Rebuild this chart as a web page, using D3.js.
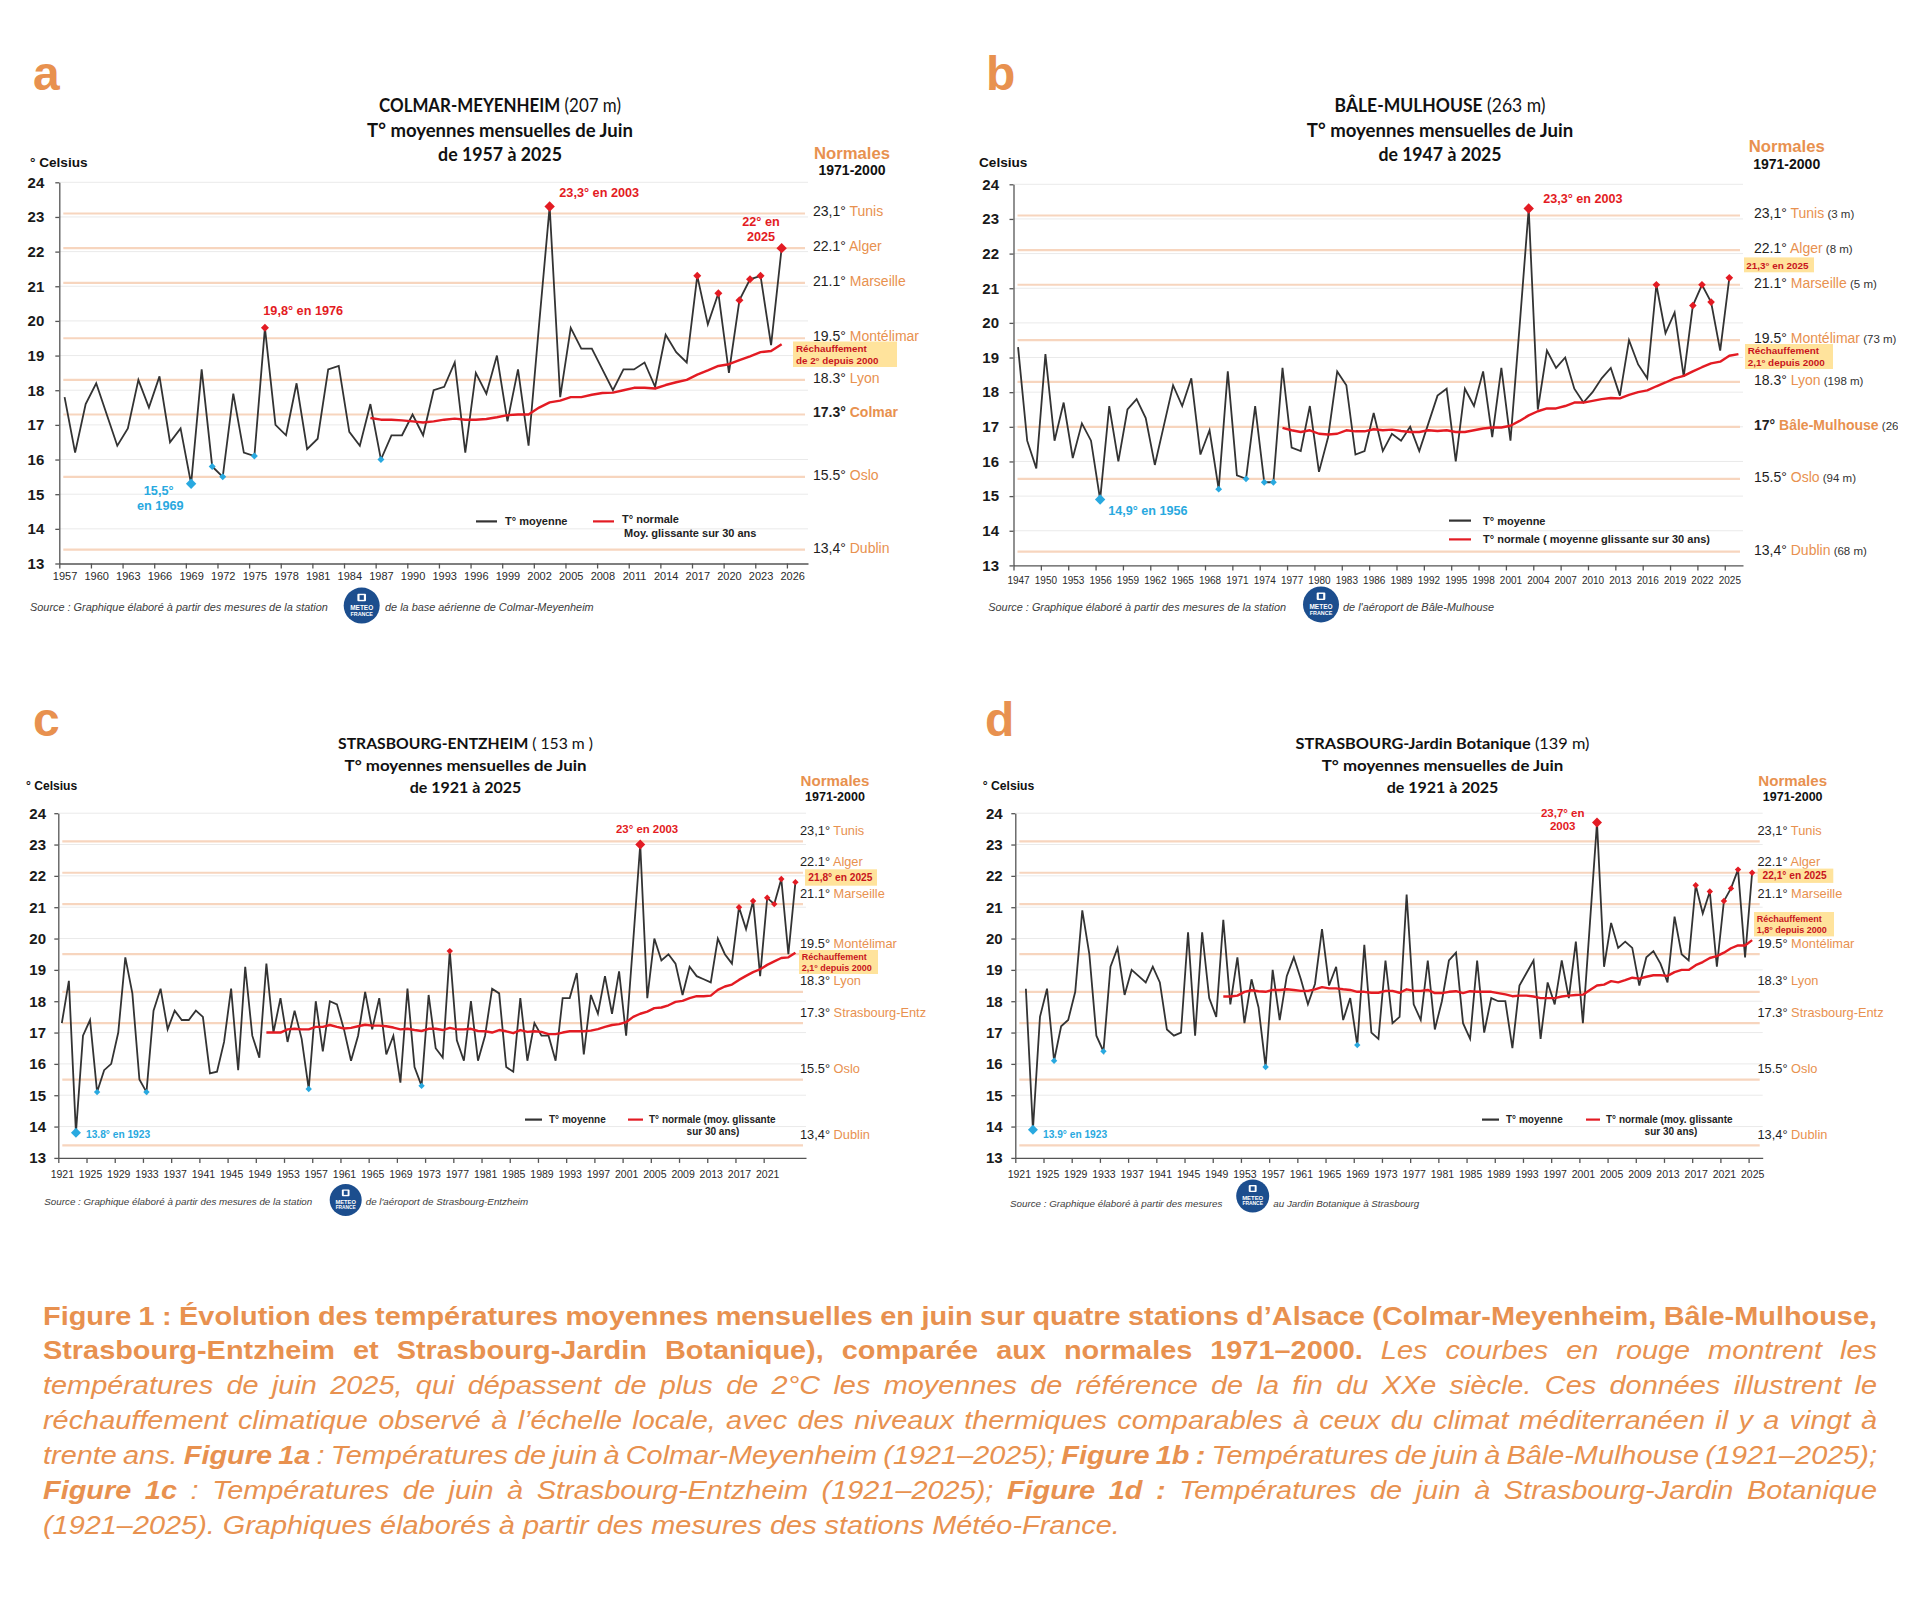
<!DOCTYPE html>
<html><head><meta charset="utf-8">
<script src="https://cdn.jsdelivr.net/npm/d3@7"></script>
<style>body{margin:0;background:#fff}svg{display:block}</style>
</head><body>
<svg id="chart" width="1920" height="1600"></svg>
<script>
// ---------------- DATA ----------------
// a : Colmar-Meyenheim
const colmarStart = 1957;
const colmarTemp = [17.8,16.2,17.6,18.2,17.3,16.4,16.9,18.3,17.5,18.4,
 16.5,16.9,15.3,18.6,15.8,15.5,17.9,16.2,16.1,19.8,
 17.0,16.7,18.2,16.3,16.6,18.6,18.7,16.8,16.4,17.6,
 16.0,16.7,16.7,17.3,16.7,18.0,18.1,18.8,16.2,18.5,
 17.9,19.0,17.1,18.6,16.4,19.9,23.3,17.8,19.8,19.2,
 19.2,18.6,18.0,18.6,18.6,18.8,18.1,19.6,19.1,18.8,
 21.3,19.9,20.8,18.5,20.6,21.2,21.3,19.3,22.1];
const colmarNormalStart = 1986;
const colmarNormal = [17.2,17.15,17.15,17.13,17.1,17.07,17.1,17.15,17.18,17.15,
 17.15,17.17,17.22,17.28,17.3,17.3,17.5,17.65,17.7,17.8,
 17.8,17.87,17.92,17.93,18.0,18.07,18.07,18.05,18.15,18.23,
 18.3,18.45,18.57,18.7,18.75,18.87,18.98,19.1,19.13,19.33];
const colmarHot = [1976,2003,2017,2019,2021,2022,2023,2025];
const colmarHotBig = [2003,2025];
const colmarCold = [1969,1971,1972,1975,1987];
const colmarColdBig = [1969];
const colmarTicks = [1957,1960,1963,1966,1969,1972,1975,1978,1981,1984,1987,1990,1993,1996,1999,2002,2005,2008,2011,2014,2017,2020,2023,2026];

// b : Bâle-Mulhouse
const baleStart = 1947;
const baleTemp = [19.3,16.6,15.8,19.1,16.6,17.7,16.1,17.1,16.6,14.9,
 17.6,16.0,17.5,17.8,17.25,15.9,17.05,18.2,17.6,18.4,
 16.2,16.9,15.2,18.6,15.6,15.5,17.6,15.4,15.4,18.7,
 16.4,16.3,17.6,15.7,16.7,18.6,18.2,16.2,16.3,17.4,
 16.3,16.8,16.6,17.0,16.3,17.1,17.9,18.1,16.0,18.1,
 17.6,18.6,16.7,18.7,16.6,19.9,23.3,17.5,19.2,18.7,
 19.0,18.1,17.7,18.0,18.4,18.7,17.9,19.5,18.8,18.4,
 21.1,19.7,20.3,18.45,20.5,21.1,20.6,19.2,21.3];
const baleNormalStart = 1976;
const baleNormal = [16.97,16.9,16.85,16.9,16.8,16.78,16.8,16.9,16.87,16.87,
 16.93,16.9,16.92,16.88,16.85,16.85,16.9,16.88,16.9,16.85,
 16.85,16.9,16.95,16.98,16.98,17.03,17.17,17.33,17.45,17.53,
 17.53,17.6,17.7,17.7,17.75,17.8,17.83,17.82,17.92,18.0,
 18.05,18.17,18.28,18.4,18.47,18.6,18.72,18.83,18.88,19.05,19.1];
const baleHot = [2003,2017,2021,2022,2023,2025];
const baleHotBig = [2003];
const baleCold = [1956,1969,1972,1974,1975];
const baleColdBig = [1956];
const baleTicks = [1947,1950,1953,1956,1959,1962,1965,1968,1971,1974,1977,1980,1983,1986,1989,1992,1995,1998,2001,2004,2007,2010,2013,2016,2019,2022,2025];

// c : Strasbourg-Entzheim
const entzStart = 1921;
const entzTemp = [17.3,18.65,13.8,16.9,17.4,15.1,15.8,16.0,17.0,19.4,
 18.25,15.5,15.1,17.7,18.4,17.1,17.7,17.4,17.4,17.7,
 17.5,15.7,15.75,16.7,18.4,15.8,19.1,16.9,16.2,19.2,
 17.0,18.1,16.7,17.7,16.8,15.2,18.0,16.4,18.0,17.9,
 17.1,16.1,16.9,18.3,17.1,18.1,16.3,16.9,15.4,18.4,
 15.9,15.3,18.2,16.5,16.2,19.6,16.75,16.1,18.0,16.1,
 16.9,18.4,18.25,15.9,15.75,18.1,16.1,17.3,16.9,16.9,
 16.1,18.1,18.1,18.9,16.3,18.2,17.6,18.8,17.6,18.95,
 16.9,19.9,23.0,18.1,20.0,19.3,19.5,19.2,18.2,19.1,
 18.8,18.7,18.6,20.0,19.5,19.2,21.0,20.3,21.2,18.8,
 21.3,21.1,21.9,19.5,21.8];
const entzNormalStart = 1950;
const entzNormal = [17.0,17.0,17.0,17.1,17.12,17.1,17.1,17.18,17.18,17.24,
 17.18,17.13,17.15,17.2,17.25,17.22,17.22,17.2,17.16,17.1,
 17.12,17.08,17.05,17.12,17.12,17.08,17.15,17.1,17.1,17.12,
 17.05,17.04,17.0,17.08,17.04,16.98,17.08,17.02,17.04,17.02,
 16.95,16.95,17.0,17.04,17.04,17.04,17.06,17.11,17.18,17.24,
 17.27,17.33,17.5,17.6,17.67,17.78,17.8,17.87,17.98,18.01,
 18.1,18.16,18.16,18.18,18.36,18.47,18.53,18.68,18.81,18.93,
 19.02,19.16,19.27,19.38,19.4,19.55];
const entzHot = [1976,2003,2017,2019,2021,2022,2023,2025];
const entzHotBig = [2003];
const entzCold = [1923,1926,1933,1956,1972];
const entzColdBig = [1923];
const entzTicks = [1921,1925,1929,1933,1937,1941,1945,1949,1953,1957,1961,1965,1969,1973,1977,1981,1985,1989,1993,1997,2001,2005,2009,2013,2017,2021];

// d : Strasbourg-Jardin Botanique
const jardinStart = 1922;
const jardinTemp = [18.4,13.9,17.5,18.4,16.1,17.2,17.4,18.3,20.9,19.5,
 16.9,16.4,19.1,19.7,18.2,19.0,18.8,18.6,19.1,18.6,
 17.1,16.9,17.0,20.2,16.9,20.2,18.1,17.5,20.6,17.9,
 19.4,17.3,18.7,17.8,15.9,19.0,17.4,18.8,19.4,18.7,
 17.9,18.55,20.3,18.5,19.1,17.4,18.1,16.6,19.8,17.0,
 16.8,19.3,17.3,17.5,21.4,17.9,17.4,19.3,17.1,18.0,
 19.3,19.55,17.3,16.8,19.3,17.0,18.1,18.0,18.0,16.5,
 18.5,18.9,19.3,16.8,18.6,17.9,19.3,18.1,19.9,17.3,
 20.5,23.7,19.1,20.5,19.7,19.9,19.7,18.5,19.4,19.6,
 19.2,18.6,20.7,19.5,19.3,21.7,20.8,21.5,19.1,21.2,
 21.6,22.2,19.4,22.1];
const jardinNormalStart = 1950;
const jardinNormal = [18.15,18.15,18.18,18.3,18.35,18.32,18.3,18.36,18.36,18.38,
 18.36,18.33,18.33,18.38,18.45,18.41,18.41,18.38,18.36,18.3,
 18.3,18.27,18.27,18.33,18.33,18.27,18.38,18.33,18.33,18.36,
 18.26,18.26,18.3,18.32,18.26,18.32,18.3,18.3,18.3,18.26,
 18.22,18.16,18.18,18.18,18.15,18.1,18.1,18.1,18.15,18.18,
 18.2,18.21,18.36,18.5,18.53,18.64,18.6,18.67,18.75,18.72,
 18.78,18.83,18.83,18.81,18.93,19.0,19.0,19.15,19.25,19.38,
 19.44,19.55,19.69,19.78,19.78,19.95];
const jardinHot = [2003,2017,2019,2021,2022,2023,2025];
const jardinHotBig = [2003];
const jardinCold = [1923,1926,1933,1956,1969];
const jardinColdBig = [1923];
const jardinTicks = [1921,1925,1929,1933,1937,1941,1945,1949,1953,1957,1961,1965,1969,1973,1977,1981,1985,1989,1993,1997,2001,2005,2009,2013,2017,2021,2025];

// Normales 1971-2000 (reference lines)
const yTicks = [13,14,15,16,17,18,19,20,21,22,23,24];
const normalsA = [23.1,22.1,21.1,19.5,18.3,17.3,15.5,13.4];
const normalsB = [23.1,22.1,21.1,19.5,18.3,17.0,15.5,13.4];
const normalsC = [23.1,22.1,21.1,19.5,18.3,17.3,15.5,13.4];
const normalsD = [23.1,22.1,21.1,19.5,18.3,17.3,15.5,13.4];
const labelsA = [['23,1°','Tunis'],['22.1°','Alger'],['21.1°','Marseille'],['19.5°','Montélimar'],['18.3°','Lyon'],['17.3°','Colmar'],['15.5°','Oslo'],['13,4°','Dublin']];
const labelsB = [['23,1°','Tunis','(3 m)'],['22.1°','Alger','(8 m)'],['21.1°','Marseille','(5 m)'],['19.5°','Montélimar','(73 m)'],['18.3°','Lyon','(198 m)'],['17°','Bâle-Mulhouse','(263 m)'],['15.5°','Oslo','(94 m)'],['13,4°','Dublin','(68 m)']];
const labelsC = [['23,1°','Tunis'],['22.1°','Alger'],['21.1°','Marseille'],['19.5°','Montélimar'],['18.3°','Lyon'],['17.3°','Strasbourg-Entz'],['15.5°','Oslo'],['13,4°','Dublin']];
const labelsD = labelsC;

// ---------------- STYLE ----------------
const F = "'Liberation Sans', Arial, Helvetica, sans-serif";
const FT = "Lato, 'Open Sans', sans-serif";
const C = {orange:'#E8914F', peach:'#F7D5BE', grid:'#EAEAEA', black:'#333333', red:'#E31B23',
  blue:'#29A9E0', dkred:'#C8141C', box:'#FFE39C', axis:'#555555', logo:'#1C4E8E', src:'#3c3c3c', cap:'#E8914F'};

const svg = d3.select('#chart');

function T(parent, x, cy, s, o = {}) {
  const fs = o.fs || 12;
  const t = parent.append('text').attr('x', x).attr('y', cy + 0.355 * fs)
    .attr('font-family', o.ff || F).attr('font-size', fs).attr('fill', o.fill || '#222');
  if (s !== null) t.text(s);
  if (o.fw) t.attr('font-weight', o.fw);
  if (o.fi) t.attr('font-style', 'italic');
  if (o.anchor) t.attr('text-anchor', o.anchor);
  return t;
}
const diamond = {draw(ctx, size){const r=Math.sqrt(size/2);ctx.moveTo(0,-r);ctx.lineTo(r,0);ctx.lineTo(0,r);ctx.lineTo(-r,0);ctx.closePath();}};

function logo(g, cx, cy, r) {
  g.append('circle').attr('cx', cx).attr('cy', cy).attr('r', r).attr('fill', C.logo);
  g.append('rect').attr('x', cx - r*0.24).attr('y', cy - r*0.66).attr('width', r*0.48).attr('height', r*0.42).attr('fill', '#fff').attr('rx', 1);
  g.append('rect').attr('x', cx - r*0.12).attr('y', cy - r*0.58).attr('width', r*0.24).attr('height', r*0.26).attr('fill', C.logo);
  T(g, cx, cy + r*0.12, 'METEO', {fs: r*0.36, fw: 700, fill: '#fff', anchor: 'middle'});
  T(g, cx, cy + r*0.46, 'FRANCE', {fs: r*0.3, fw: 700, fill: '#fff', anchor: 'middle'});
}

// ---------------- PANELS ----------------
const panels = [
 {id:'a', temps:colmarTemp, t0:colmarStart, norm:colmarNormal, n0:colmarNormalStart,
  hot:colmarHot, hotBig:colmarHotBig, cold:colmarCold, coldBig:colmarColdBig,
  refs:normalsA, labels:labelsA, boldRef:5, ticks:colmarTicks,
  dom:[1956.5,2027.5], xr:[59.3,808], yr:[563.5,182.3], ypad:11, xfs:11, xlab:13,
  lx:813, ldy:-2, lfs:14, afs:11.5, rBig:5.2, rHot:4, rCold:3.5},
 {id:'b', temps:baleTemp, t0:baleStart, norm:baleNormal, n0:baleNormalStart,
  hot:baleHot, hotBig:baleHotBig, cold:baleCold, coldBig:baleColdBig,
  refs:normalsB, labels:labelsB, boldRef:5, ticks:baleTicks,
  dom:[1946.5,2026.5], xr:[1013.5,1743], yr:[565.4,184.3], ypad:10.5, xfs:10, xlab:14.9,
  lx:1754, ldy:-2, lfs:14, afs:11.5, rBig:5.2, rHot:3.8, rCold:3.4, clip:1898},
 {id:'c', temps:entzTemp, t0:entzStart, norm:entzNormal, n0:entzNormalStart,
  hot:entzHot, hotBig:entzHotBig, cold:entzCold, coldBig:entzColdBig,
  refs:normalsC, labels:labelsC, boldRef:-1, ticks:entzTicks,
  dom:[1920.5,2026.5], xr:[58.3,806], yr:[1157.9,813.2], ypad:8.3, xfs:10.5, xlab:16,
  lx:800, ldy:-11, lfs:12.8, afs:11, rBig:5, rHot:3.2, rCold:3.2},
 {id:'d', temps:jardinTemp, t0:jardinStart, norm:jardinNormal, n0:jardinNormalStart,
  hot:jardinHot, hotBig:jardinHotBig, cold:jardinCold, coldBig:jardinColdBig,
  refs:normalsD, labels:labelsD, boldRef:-1, ticks:jardinTicks,
  dom:[1920.5,2026.5], xr:[1015.3,1762.7], yr:[1157.9,813.2], ypad:8.6, xfs:10.5, xlab:16,
  lx:1757.5, ldy:-11, lfs:12.8, afs:11, rBig:5, rHot:3.2, rCold:3.2}
];

panels.forEach(p => {
  const g = svg.append('g').attr('class', 'panel-' + p.id);
  const x = d3.scaleLinear().domain(p.dom).range(p.xr);
  const y = d3.scaleLinear().domain([13, 24]).range(p.yr);

  // grid
  g.append('g').selectAll('line').data(yTicks.filter(v => v > 13)).join('line')
    .attr('x1', p.xr[0]).attr('x2', p.xr[1]).attr('y1', d => y(d)).attr('y2', d => y(d))
    .attr('stroke', C.grid).attr('stroke-width', 1);
  // reference normals
  g.append('g').selectAll('line').data(p.refs).join('line')
    .attr('x1', p.xr[0] + 4).attr('x2', p.xr[1] - 3).attr('y1', d => y(d)).attr('y2', d => y(d))
    .attr('stroke', C.peach).attr('stroke-width', 2.2);

  // y axis
  const ya = g.append('g').attr('transform', `translate(${p.xr[0]},0)`)
    .call(d3.axisLeft(y).tickValues(yTicks).tickSize(4).tickSizeOuter(0).tickPadding(p.ypad).tickFormat(d3.format('d')));
  ya.attr('font-family', F).attr('font-size', 15).attr('font-weight', 700);
  ya.selectAll('text').attr('fill', '#1a1a1a');
  ya.selectAll('line,path').attr('stroke', C.axis).attr('stroke-width', 1.3);

  // x axis : ticks between categories + labels on categories
  const y0 = y(13);
  const xa = g.append('g').attr('transform', `translate(0,${y0})`)
    .call(d3.axisBottom(x).tickValues(p.ticks.map(t => t - 0.5)).tickSize(5).tickSizeOuter(0).tickFormat(''));
  xa.selectAll('line,path').attr('stroke', C.axis).attr('stroke-width', 1.3);
  const xl = g.append('g').attr('transform', `translate(0,${y0})`)
    .call(d3.axisBottom(x).tickValues(p.ticks).tickSize(0).tickFormat(d3.format('d')));
  xl.select('.domain').remove();
  xl.attr('font-family', F).attr('font-size', p.xfs);
  xl.selectAll('text').attr('fill', '#2a2a2a').attr('dy', null).attr('y', p.xlab + 0.355 * p.xfs);

  // series
  const tempData = p.temps.map((v, i) => ({year: p.t0 + i, v}));
  const normData = p.norm.map((v, i) => ({year: p.n0 + i, v}));
  const line = d3.line().x(d => x(d.year)).y(d => y(d.v));
  g.append('path').datum(tempData).attr('d', line).attr('fill', 'none')
    .attr('stroke', C.black).attr('stroke-width', 1.8).attr('stroke-linejoin', 'miter');
  g.append('path').datum(normData).attr('d', line).attr('fill', 'none')
    .attr('stroke', C.red).attr('stroke-width', 2.4).attr('stroke-linejoin', 'round');

  const byYear = new Map(tempData.map(d => [d.year, d]));
  const sym = r => d3.symbol(diamond, 2 * r * r)();
  g.append('g').selectAll('path').data(p.cold.map(yr => byYear.get(yr))).join('path')
    .attr('d', d => sym(p.coldBig.includes(d.year) ? p.rBig : p.rCold))
    .attr('transform', d => `translate(${x(d.year)},${y(d.v)})`).attr('fill', C.blue);
  g.append('g').selectAll('path').data(p.hot.map(yr => byYear.get(yr))).join('path')
    .attr('d', d => sym(p.hotBig.includes(d.year) ? p.rBig : p.rHot))
    .attr('transform', d => `translate(${x(d.year)},${y(d.v)})`).attr('fill', C.red);

  // right-hand labels of the normals
  const lg = g.append('g');
  if (p.clip) {
    svg.append('clipPath').attr('id', 'clip-' + p.id).append('rect')
      .attr('x', 0).attr('y', 0).attr('width', p.clip).attr('height', 1600);
    lg.attr('clip-path', `url(#clip-${p.id})`);
  }
  p.refs.forEach((v, i) => {
    const lab = p.labels[i];
    const bold = i === p.boldRef;
    const t = T(lg, p.lx, y(v) + p.ldy, null, {fs: p.lfs});
    t.append('tspan').text(lab[0] + ' ').attr('fill', '#1e1e1e').attr('font-weight', bold ? 700 : 400);
    t.append('tspan').text(lab[1]).attr('fill', C.orange).attr('font-weight', bold ? 700 : 400);
    if (lab[2]) t.append('tspan').text(' ' + lab[2]).attr('fill', '#333').attr('font-size', p.afs);
  });
});

// ---------------- PANEL TEXTS ----------------
function letter(x, base, s) {
  svg.append('text').attr('x', x).attr('y', base).text(s).attr('font-family', F)
    .attr('font-size', 48).attr('font-weight', 700).attr('fill', C.orange);
}
letter(33, 90, 'a'); letter(986, 90, 'b'); letter(33, 736, 'c'); letter(985, 736, 'd');

// title line fitted to a measured width by a horizontal scale (no glyph overlap)
function fitLine(cx, cyy, fs, width, parts) {
  const g = svg.append('g');
  const t = g.append('text').attr('x', 0).attr('y', 0).attr('font-family', FT)
    .attr('font-size', fs).attr('fill', '#111').attr('text-anchor', 'middle');
  parts.forEach(([s, w]) => t.append('tspan').text(s).attr('font-weight', w));
  const w0 = t.node().getComputedTextLength();
  const s = w0 > 0 ? width / w0 : 1;
  g.attr('transform', `translate(${cx},${cyy + 0.355 * fs}) scale(${s},1)`);
}
function title(cx, ys, fs, widths, l1a, l1b, l2, l3) {
  fitLine(cx, ys[0], fs, widths[0], [[l1a, 700], [l1b, 400]]);
  fitLine(cx, ys[1], fs, widths[1], [[l2, 700]]);
  fitLine(cx, ys[2], fs, widths[2], [[l3, 700]]);
}
title(500, [105.8, 130.3, 154], 18.5, [242, 266, 124], 'COLMAR-MEYENHEIM', '\u00a0(207 m)', 'T° moyennes mensuelles de Juin', 'de 1957 à 2025');
title(1440, [105.8, 130.3, 154], 18.5, [211, 266.6, 123.3], 'BÂLE-MULHOUSE', '\u00a0(263 m)', 'T° moyennes mensuelles de Juin', 'de 1947 à 2025');
title(465.5, [743.6, 765.7, 787.5], 16, [255, 242, 111.7], 'STRASBOURG-ENTZHEIM', '\u00a0( 153 m )', 'T° moyennes mensuelles de Juin', 'de 1921 à 2025');
title(1442.5, [743.6, 765.7, 787.5], 16, [294, 241.7, 111.7], 'STRASBOURG-Jardin Botanique', '\u00a0(139 m)', 'T° moyennes mensuelles de Juin', 'de 1921 à 2025');

// y unit
T(svg, 30, 161.7, '° Celsius', {fs: 13.6, fw: 700, fill: '#111'});
T(svg, 979, 161.7, 'Celsius', {fs: 13.6, fw: 700, fill: '#111'});
T(svg, 26, 785.7, '° Celsius', {fs: 12.1, fw: 700, fill: '#111'});
T(svg, 982.7, 785.7, '° Celsius', {fs: 12.2, fw: 700, fill: '#111'});

// Normales headers
function normales(cx, y1, y2, fs1, fs2) {
  T(svg, cx, y1, 'Normales', {fs: fs1, fw: 700, fill: C.orange, anchor: 'middle'});
  T(svg, cx, y2, '1971-2000', {fs: fs2, fw: 700, fill: '#111', anchor: 'middle'});
}
normales(852, 152.9, 170, 16.7, 14);
normales(1786.7, 146.4, 163.6, 16.7, 14);
normales(835, 781, 796.4, 15.1, 12.5);
normales(1792.7, 781, 796.4, 15.1, 12.5);

// legends
function legLine(x1, x2, yy, col) {
  svg.append('line').attr('x1', x1).attr('x2', x2).attr('y1', yy).attr('y2', yy)
    .attr('stroke', col).attr('stroke-width', 2.2);
}
legLine(476, 497, 521.4, C.black); T(svg, 505, 521.4, 'T° moyenne', {fs: 11, fw: 700});
legLine(593, 614, 521.4, C.red); T(svg, 622, 519.5, 'T° normale', {fs: 11, fw: 700});
T(svg, 624, 532.8, 'Moy. glissante sur 30 ans', {fs: 11, fw: 700});

legLine(1449, 1471, 520.6, C.black); T(svg, 1483, 520.6, 'T° moyenne', {fs: 11, fw: 700});
legLine(1449, 1471, 539.4, C.red); T(svg, 1483, 539, 'T° normale ( moyenne glissante sur 30 ans)', {fs: 11, fw: 700});

legLine(525, 542, 1119.6, C.black); T(svg, 549, 1119.6, 'T° moyenne', {fs: 10, fw: 700});
legLine(628, 643, 1119.6, C.red); T(svg, 649, 1119, 'T° normale (moy. glissante', {fs: 10, fw: 700});
T(svg, 713, 1131, 'sur 30 ans)', {fs: 10, fw: 700, anchor: 'middle'});

legLine(1482, 1499, 1119.6, C.black); T(svg, 1506, 1119.6, 'T° moyenne', {fs: 10, fw: 700});
legLine(1586, 1600, 1119.6, C.red); T(svg, 1606, 1119, 'T° normale (moy. glissante', {fs: 10, fw: 700});
T(svg, 1671, 1131, 'sur 30 ans)', {fs: 10, fw: 700, anchor: 'middle'});

// annotations
const notes = [
 ['19,8° en 1976', 263.3, 310.9, 'start', C.red, 12.7],
 ['15,5°', 158.7, 490.8, 'middle', C.blue, 12.7],
 ['en 1969', 160.3, 505.7, 'middle', C.blue, 12.7],
 ['23,3° en 2003', 559.3, 192.3, 'start', C.red, 12.7],
 ['22° en', 761, 221.8, 'middle', C.red, 12.7],
 ['2025', 761, 236.3, 'middle', C.red, 12.7],
 ['23,3° en 2003', 1543.3, 198.8, 'start', C.red, 12.6],
 ['14,9° en 1956', 1108.3, 510.7, 'start', C.blue, 12.6],
 ['23° en 2003', 616, 828.6, 'start', C.red, 11.4],
 ['13.8° en 1923', 86, 1134.6, 'start', C.blue, 10.2],
 ['23,7° en', 1562.7, 812.5, 'middle', C.red, 11.5],
 ['2003', 1562.7, 825.7, 'middle', C.red, 11.5],
 ['13.9° en 1923', 1043, 1134.6, 'start', C.blue, 10.2]
];
notes.forEach(n => T(svg, n[1], n[2], n[0], {fs: n[5], fw: 700, fill: n[4], anchor: n[3]}));

// highlight boxes
function box(x1, x2, y1, y2, lines, tx, fs) {
  svg.append('rect').attr('x', x1).attr('y', y1).attr('width', x2 - x1).attr('height', y2 - y1).attr('fill', C.box);
  lines.forEach(l => T(svg, tx, l[1], l[0], {fs, fw: 700, fill: C.dkred}));
}
box(793, 897, 341.5, 367, [['Réchauffement', 348.6], ['de 2° depuis 2000', 360.2]], 796, 9.8);
box(1744, 1814, 257.4, 272.3, [['21,3° en 2025', 265]], 1746.3, 9.9);
box(1745, 1833, 344, 369, [['Réchauffement', 350.7], ['2,1° depuis 2000', 362.2]], 1747.7, 9.9);
box(805, 877, 869.3, 885.7, [['21,8° en 2025', 877.5]], 808.3, 10.2);
box(799, 878, 950, 974, [['Réchauffement', 957.1], ['2,1° depuis 2000', 967.9]], 801.7, 9);
box(1757.7, 1833.3, 868.6, 882.9, [['22,1° en 2025', 875.6]], 1762.5, 10.2);
box(1754, 1834, 912, 936.4, [['Réchauffement', 919], ['1,8° depuis 2000', 929.6]], 1756.7, 9);

// sources
T(svg, 30, 607.5, 'Source : Graphique élaboré à partir des mesures de la station', {fs: 10.9, fi: true, fill: C.src});
logo(svg, 361.7, 605.6, 18);
T(svg, 385, 607.5, 'de la base aérienne de Colmar-Meyenheim', {fs: 10.9, fi: true, fill: C.src});
T(svg, 988.3, 607.5, 'Source : Graphique élaboré à partir des mesures de la station', {fs: 10.9, fi: true, fill: C.src});
logo(svg, 1321, 604.4, 18);
T(svg, 1343, 607.5, "de l'aéroport de Bâle-Mulhouse", {fs: 10.9, fi: true, fill: C.src});
T(svg, 44.3, 1201.8, 'Source : Graphique élaboré à partir des mesures de la station', {fs: 9.8, fi: true, fill: C.src});
logo(svg, 345.7, 1200, 16);
T(svg, 365.7, 1201.8, "de l'aéroport de Strasbourg-Entzheim", {fs: 9.8, fi: true, fill: C.src});
T(svg, 1010, 1203.6, 'Source : Graphique élaboré à partir des mesures', {fs: 9.8, fi: true, fill: C.src});
logo(svg, 1252.7, 1196, 16.5);
T(svg, 1273.3, 1203.6, 'au Jardin Botanique à Strasbourg', {fs: 9.8, fi: true, fill: C.src});

// ---------------- CAPTION ----------------
const captionLines = [
 [['b','Figure 1 : Évolution des températures moyennes mensuelles en juin sur quatre stations d’Alsace (Colmar-Meyenheim, Bâle-Mulhouse,']],
 [['b','Strasbourg-Entzheim et Strasbourg-Jardin Botanique), comparée aux normales 1971–2000.'],['i',' Les courbes en rouge montrent les']],
 [['i','températures de juin 2025, qui dépassent de plus de 2°C les moyennes de référence de la fin du XXe siècle. Ces données illustrent le']],
 [['i','réchauffement climatique observé à l’échelle locale, avec des niveaux thermiques comparables à ceux du climat méditerranéen il y a vingt à']],
 [['i','trente ans. '],['bi','Figure 1a'],['i',' : Températures de juin à Colmar-Meyenheim (1921–2025); '],['bi','Figure 1b :'],['i',' Températures de juin à Bâle-Mulhouse (1921–2025);']],
 [['bi','Figure 1c'],['i',' : Températures de juin à Strasbourg-Entzheim (1921–2025); '],['bi','Figure 1d :'],['i',' Températures de juin à Strasbourg-Jardin Botanique']],
 [['i','(1921–2025). Graphiques élaborés à partir des mesures des stations Météo-France.']]
];
const capFs = 25.6, capX = 43, capRight = 1877, capLastRight = 1120, capBase = 1324.5, capLH = 34.85;
const capGroups = captionLines.map((segs, i) => {
  const gg = svg.append('g');
  const t = gg.append('text').attr('x', 0).attr('y', 0).attr('font-family', F)
    .attr('font-size', capFs).attr('fill', C.cap);
  segs.forEach(([st, s]) => {
    const ts = t.append('tspan').text(s);
    ts.attr('font-weight', st.includes('b') ? 700 : 400);
    if (st.includes('i')) ts.attr('font-style', 'italic');
  });
  return {gg, t, text: segs.map(s => s[1]).join('')};
});
const wLast = capGroups[6].t.node().getComputedTextLength();
const k = (capLastRight - capX) / wLast;
capGroups.forEach((c, i) => {
  c.gg.attr('transform', `translate(${capX},${capBase + i * capLH}) scale(${k},1)`);
  if (i < 6) {
    const w = c.t.node().getComputedTextLength();
    const n = (c.text.match(/ /g) || []).length;
    const target = (capRight - capX) / k;
    c.t.attr('word-spacing', (target - w) / n);
  }
});
</script>
</body></html>
